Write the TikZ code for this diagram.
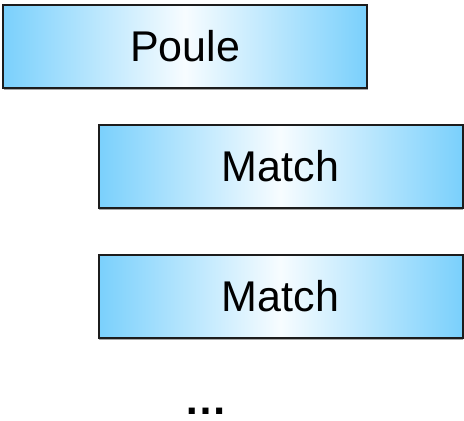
\documentclass[tikz,border=0pt]{standalone}
\usepackage{fontspec}
\setmainfont{Liberation Sans}
\usetikzlibrary{shadows}
\definecolor{BoiteBleu}{RGB}{122,208,252}
\definecolor{BoiteBord}{RGB}{28,28,28}

\begin{document}
\begin{tikzpicture}[x=0.5pt, y=-0.5pt, font=\fontsize{21.5}{25}\selectfont,
	boite/.style={rectangle, draw=BoiteBord, line width=1pt,
		minimum width=182pt, minimum height=41.5pt, inner sep=0pt,
		left color=BoiteBleu, right color=BoiteBleu, middle color=white!94!BoiteBleu,
		drop shadow={shadow xshift=0.3pt, shadow yshift=-1pt, opacity=0.7}}]
	\useasboundingbox (0,0) rectangle (464,420);
	\node[boite] (poule) at (185,46) {Poule};
	\foreach \y [count=\i] in {166.5,296.5}{
		\node[boite] (match\i) at (280.5,\y) {Match};
	}
	\node[anchor=base] (suite) at (206,414) {\textbf{…}};
\end{tikzpicture}
\end{document}
